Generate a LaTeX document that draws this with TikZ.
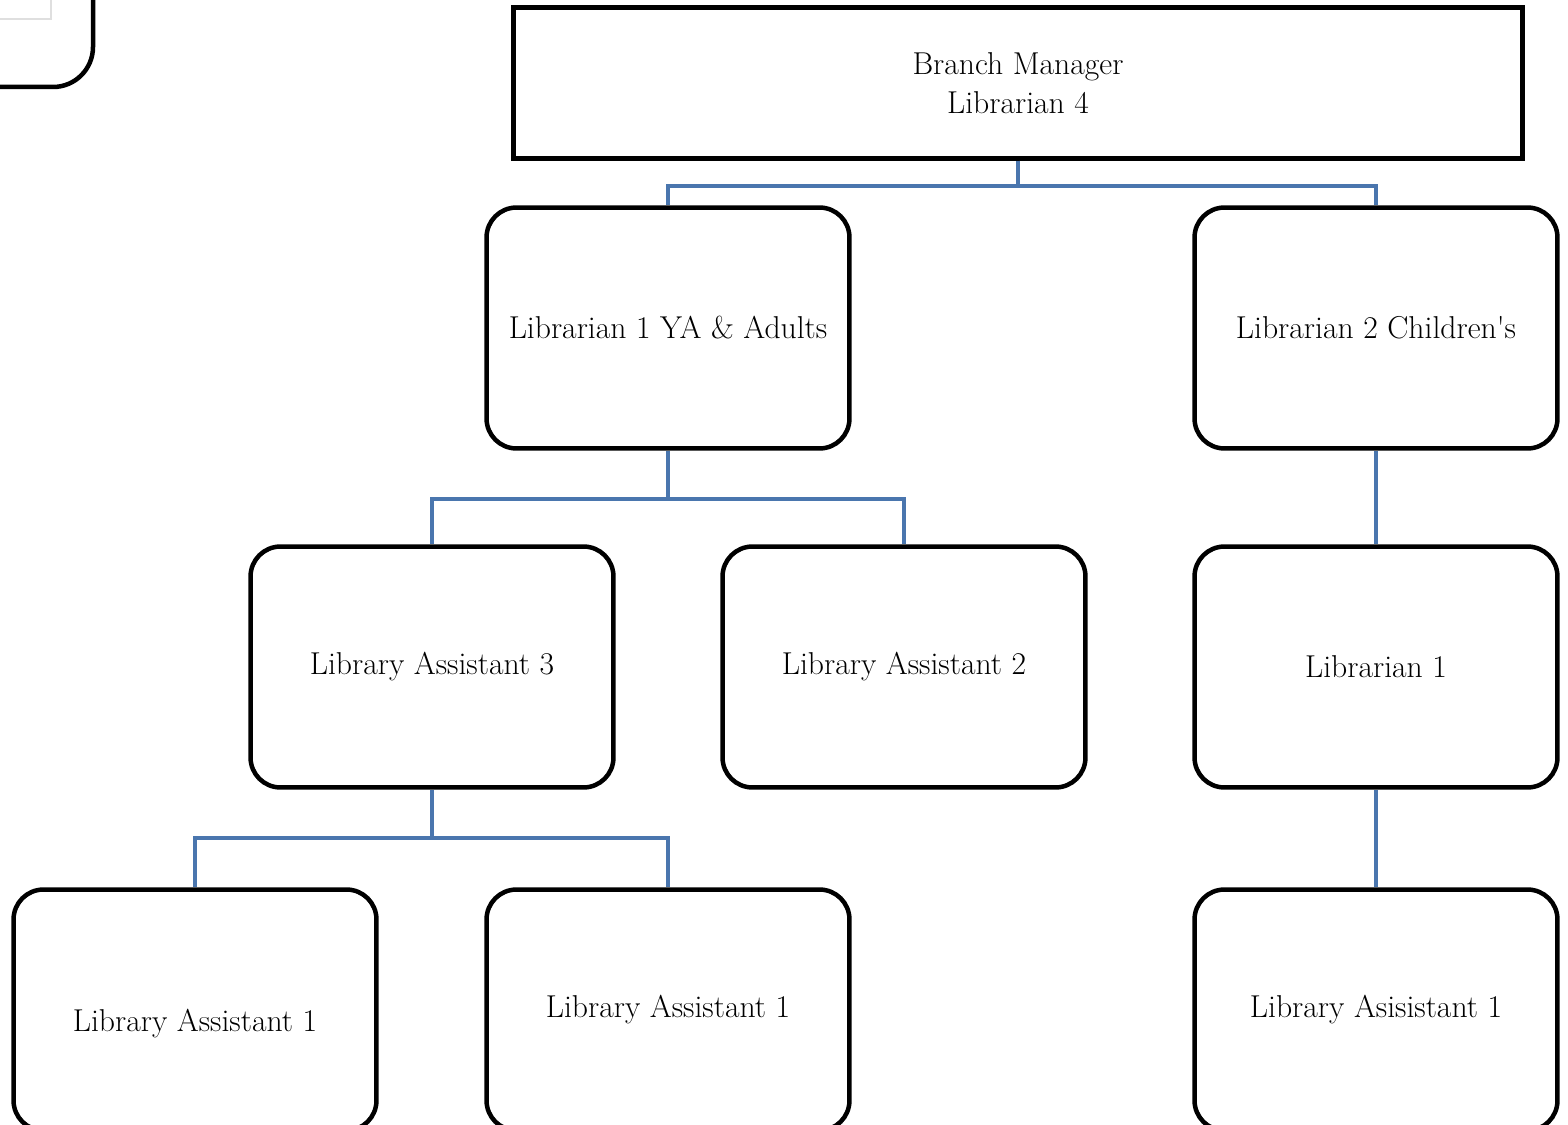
\documentclass[tikz,border=0pt]{standalone}
\usepackage{tikz}
\definecolor{linkblue}{RGB}{74,118,174}

\begin{document}
\begin{tikzpicture}[x=0.02cm,y=-0.02cm,line width=0.09cm,inner sep=1pt]
\tikzstyle{post}=[rectangle,draw,rounded corners=0.6cm,minimum width=7.26cm,minimum height=4.82cm,font=\fontsize{18}{22}\selectfont]
\tikzstyle{head}=[rectangle,draw,minimum width=20.18cm,minimum height=3.02cm,align=center,font=\fontsize{18}{22}\selectfont]
\tikzstyle{wire}=[draw=linkblue,line width=0.08cm]
\useasboundingbox (0,0) rectangle (1568,1125);
\draw[gray!25,line width=0.03cm] (-100,-100) rectangle (51,19);
\draw[rounded corners=0.8cm] (-400,-400) rectangle (93,87);
\node[head] (bm) at (1018,83) {Branch Manager\\Librarian 4};
\node[post] (ya) at (668,328) {Librarian 1 YA \& Adults};
\node[post] (kids) at (1376,328) {Librarian 2 Children\textquotesingle s};
\node[post] (la3) at (432,667) {Library Assistant 3};
\node[post] (la2) at (904,667) {Library Assistant 2};
\node[post] (lib1) at (1376,667) {Librarian 1};
\node[post,label={[yshift=-0.28cm,font=\fontsize{18}{22}\selectfont]center:Library Assistant 1}] (la1a) at (195,1010) {};
\node[post] (la1b) at (668,1010) {Library Assistant 1};
\node[post] (la1c) at (1376,1010) {Library Asisistant 1};
\draw[wire] (bm.south) -- ++(0,25) -| (ya.north);
\draw[wire] (bm.south) -- ++(0,25) -| (kids.north);
\draw[wire] (ya.south) -- ++(0,48) -| (la3.north);
\draw[wire] (ya.south) -- ++(0,48) -| (la2.north);
\draw[wire] (kids) -- (lib1);
\draw[wire] (la3.south) -- ++(0,48) -| (la1a.north);
\draw[wire] (la3.south) -- ++(0,48) -| (la1b.north);
\draw[wire] (lib1) -- (la1c);
\end{tikzpicture}
\end{document}
